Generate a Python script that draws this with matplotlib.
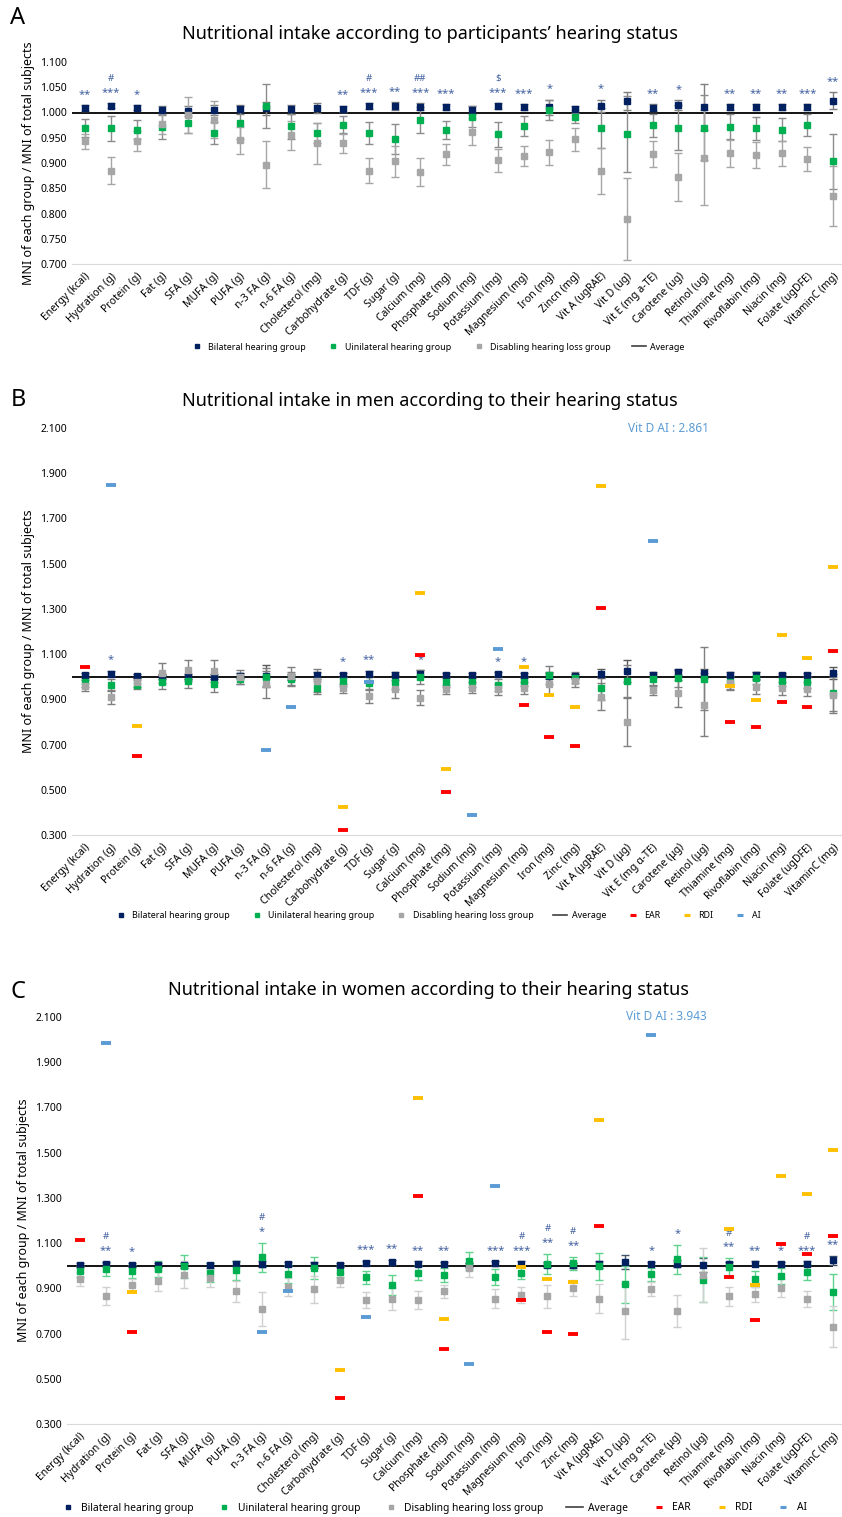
import numpy as np
import matplotlib
matplotlib.use("Agg")
import matplotlib.pyplot as plt
from matplotlib.lines import Line2D

plt.rcParams['font.family'] = ['Noto Sans', 'DejaVu Sans']

nan = np.nan

labels_a = ['Energy (kcal)', 'Hydration (g)', 'Protein (g)', 'Fat (g)', 'SFA (g)', 'MUFA (g)', 'PUFA (g)',
            'n-3 FA (g)', 'n-6 FA (g)', 'Cholesterol (mg)', 'Carbohydrate (g)', 'TDF (g)', 'Sugar (g)',
            'Calcium (mg)', 'Phosphate (mg)', 'Sodium (mg)', 'Potassium (mg)', 'Magnesium (mg)', 'Iron (mg)',
            'Zincn (mg)', 'Vit A (ugRAE)', 'Vit D (ug)', 'Vit E (mg a-TE)', 'Carotene (ug)', 'Retinol (ug)',
            'Thiamine (mg)', 'Rivoflabin (mg)', 'Niacin (mg)', 'Folate (ugDFE)', 'VitaminC (mg)']
labels_bc = labels_a[:19] + ['Zinc (mg)', 'Vit A (μgRAE)', 'Vit D (μg)', 'Vit E (mg α-TE)', 'Carotene (μg)',
                             'Retinol (μg)'] + labels_a[25:]

# ---- panel A: all participants
a_bil = [1.008, 1.013, 1.009, 1.004, 1.003, 1.005, 1.006, 1.008, 1.006, 1.009, 1.007, 1.012, 1.012, 1.011, 1.010,
         1.005, 1.012, 1.010, 1.010, 1.006, 1.013, 1.022, 1.009, 1.014, 1.011, 1.010, 1.010, 1.010, 1.010, 1.023]
a_bil_err = [0.006, 0.005, 0.005, 0.009, 0.010, 0.010, 0.009, 0.012, 0.009, 0.010, 0.006, 0.006, 0.008, 0.007, 0.006,
             0.008, 0.006, 0.006, 0.015, 0.007, 0.012, 0.018, 0.007, 0.010, 0.045, 0.006, 0.006, 0.006, 0.006, 0.017]
a_uni = [0.970, 0.969, 0.966, 0.972, 0.980, 0.960, 0.980, 1.013, 0.973, 0.960, 0.976, 0.960, 0.947, 0.985, 0.965,
         0.992, 0.957, 0.973, 1.005, 0.992, 0.969, 0.957, 0.975, 0.970, 0.970, 0.972, 0.969, 0.966, 0.975, 0.903]
a_uni_err = [0.018, 0.025, 0.019, 0.025, 0.021, 0.022, 0.033, 0.044, 0.025, 0.020, 0.017, 0.022, 0.030, 0.025, 0.018,
             0.020, 0.025, 0.020, 0.020, 0.012, 0.040, 0.075, 0.023, 0.044, 0.065, 0.025, 0.023, 0.023, 0.022, 0.055]
a_dis = [0.943, 0.885, 0.943, 0.977, 0.995, 0.986, 0.945, 0.897, 0.955, 0.939, 0.939, 0.885, 0.903, 0.882, 0.917,
         0.962, 0.905, 0.914, 0.921, 0.947, 0.884, 0.789, 0.918, 0.872, 0.910, 0.919, 0.916, 0.919, 0.908, 0.835]
a_dis_err = [0.015, 0.026, 0.020, 0.020, 0.035, 0.037, 0.027, 0.047, 0.029, 0.040, 0.019, 0.024, 0.030, 0.027, 0.020,
             0.027, 0.023, 0.020, 0.024, 0.023, 0.046, 0.081, 0.025, 0.048, 0.094, 0.027, 0.025, 0.025, 0.024, 0.060]
a_stars = ['**', '***', '*', '', '', '', '', '', '', '', '**', '***', '**', '***', '***', '', '***', '***', '*', '',
           '*', '', '**', '*', '', '**', '**', '**', '***', '**']
a_marks = ['', '#', '', '', '', '', '', '', '', '', '', '#', '', '##', '', '', '$', '', '', '',
           '', '', '', '', '', '', '', '', '', '']

# ---- panel B: men
b_bil = [1.007, 1.014, 1.003, 1.000, 1.000, 1.000, 1.005, 1.004, 0.998, 1.007, 1.007, 1.014, 1.009, 1.013, 1.007,
         1.007, 1.010, 1.006, 1.004, 1.003, 1.014, 1.026, 1.009, 1.019, 1.016, 1.009, 1.006, 1.007, 1.007, 1.017]
b_bil_err = [0.010, 0.012, 0.008, 0.010, 0.010, 0.010, 0.012, 0.050, 0.012, 0.015, 0.010, 0.012, 0.012, 0.015, 0.008,
             0.008, 0.010, 0.010, 0.015, 0.010, 0.020, 0.050, 0.010, 0.012, 0.020, 0.010, 0.015, 0.010, 0.010, 0.025]
b_uni = [0.976, 0.964, 0.964, 0.976, 0.982, 0.967, 0.991, 0.998, 0.990, 0.952, 0.979, 0.972, 0.976, 0.998, 0.976,
         0.976, 0.963, 0.977, 1.006, 0.996, 0.948, 0.980, 0.989, 0.995, 0.991, 0.975, 0.994, 0.983, 0.977, 0.930]
b_uni_err = [0.020, 0.025, 0.020, 0.030, 0.030, 0.035, 0.025, 0.040, 0.030, 0.030, 0.020, 0.025, 0.030, 0.030, 0.020,
             0.020, 0.025, 0.020, 0.040, 0.025, 0.050, 0.070, 0.025, 0.040, 0.140, 0.030, 0.025, 0.025, 0.025, 0.080]
b_dis = [0.960, 0.910, 0.976, 1.016, 1.028, 1.025, 1.000, 0.967, 1.004, 0.983, 0.948, 0.913, 0.944, 0.908, 0.945,
         0.952, 0.945, 0.950, 0.967, 0.983, 0.911, 0.800, 0.941, 0.926, 0.877, 0.972, 0.955, 0.948, 0.945, 0.920]
b_dis_err = [0.025, 0.030, 0.020, 0.045, 0.045, 0.050, 0.030, 0.060, 0.040, 0.050, 0.020, 0.030, 0.040, 0.035, 0.020,
             0.025, 0.025, 0.025, 0.050, 0.030, 0.060, 0.105, 0.020, 0.060, 0.140, 0.030, 0.030, 0.030, 0.030, 0.080]
b_ear = [1.045, nan, 0.650, nan, nan, nan, nan, nan, nan, nan, 0.323, nan, nan, 1.096, 0.492,
         nan, nan, 0.874, 0.734, 0.693, 1.303, nan, nan, nan, nan, 0.798, 0.777, 0.888, 0.865, 1.113]
b_rdi = [nan, nan, 0.780, nan, nan, nan, nan, nan, nan, nan, 0.423, nan, nan, 1.370, 0.593,
         nan, nan, 1.045, 0.919, 0.868, 1.845, nan, nan, nan, nan, 0.957, 0.898, 1.185, 1.082, 1.486]
b_ai = [nan, 1.846, nan, nan, nan, nan, nan, 0.676, 0.865, nan, nan, 0.976, nan, nan, nan,
        0.389, 1.124, nan, nan, nan, nan, nan, 1.600, nan, nan, nan, nan, nan, nan, nan]
b_vitd_ai = 2.861
b_stars = ['', '*', '', '', '', '', '', '', '', '', '*', '**', '', '*', '', '', '*', '*', '', '',
           '', '', '', '', '', '', '', '', '', '']
b_marks = [''] * 30

# ---- panel C: women
c_bil = [1.003, 1.007, 1.004, 1.004, 1.001, 1.001, 1.009, 1.007, 1.007, 1.004, 1.004, 1.012, 1.015, 1.009, 1.007,
         1.003, 1.010, 1.009, 1.005, 1.001, 1.007, 1.016, 1.007, 1.009, 1.004, 1.007, 1.009, 1.007, 1.009, 1.024]
c_bil_err = [0.008, 0.010, 0.008, 0.010, 0.010, 0.010, 0.010, 0.012, 0.010, 0.012, 0.008, 0.010, 0.010, 0.010, 0.010,
             0.010, 0.010, 0.010, 0.012, 0.010, 0.015, 0.030, 0.010, 0.015, 0.030, 0.010, 0.010, 0.010, 0.010, 0.020]
c_uni = [0.975, 0.984, 0.975, 0.985, 0.997, 0.970, 0.979, 1.037, 0.965, 0.990, 0.973, 0.948, 0.914, 0.970, 0.959,
         1.021, 0.950, 0.970, 1.007, 1.010, 0.998, 0.917, 0.962, 1.028, 0.938, 0.994, 0.941, 0.956, 0.972, 0.882]
c_uni_err = [0.025, 0.030, 0.030, 0.035, 0.050, 0.040, 0.040, 0.065, 0.040, 0.050, 0.025, 0.030, 0.045, 0.035, 0.030,
             0.040, 0.035, 0.030, 0.045, 0.030, 0.060, 0.080, 0.030, 0.065, 0.100, 0.040, 0.035, 0.035, 0.035, 0.080]
c_dis = [0.941, 0.867, 0.913, 0.934, 0.960, 0.947, 0.886, 0.808, 0.904, 0.895, 0.938, 0.850, 0.852, 0.850, 0.886,
         0.988, 0.855, 0.870, 0.864, 0.901, 0.855, 0.798, 0.897, 0.801, 0.959, 0.864, 0.873, 0.900, 0.852, 0.731]
c_dis_err = [0.030, 0.040, 0.030, 0.045, 0.060, 0.040, 0.045, 0.075, 0.040, 0.060, 0.030, 0.035, 0.050, 0.040, 0.030,
             0.040, 0.040, 0.035, 0.050, 0.035, 0.065, 0.120, 0.030, 0.070, 0.120, 0.040, 0.035, 0.040, 0.035, 0.090]
c_ear = [1.112, nan, 0.706, nan, nan, nan, nan, nan, nan, nan, 0.413, nan, nan, 1.307, 0.633,
         nan, nan, 0.847, 0.705, 0.696, 1.175, nan, nan, nan, nan, 0.950, 0.762, 1.096, 1.053, 1.133]
c_rdi = [nan, nan, 0.885, nan, nan, nan, nan, nan, nan, nan, 0.538, nan, nan, 1.742, 0.764,
         nan, nan, 0.993, 0.941, 0.929, 1.643, nan, nan, nan, nan, 1.161, 0.913, 1.398, 1.317, 1.510]
c_ai = [nan, 1.986, nan, nan, nan, nan, nan, 0.706, 0.889, nan, nan, 0.773, nan, nan, nan,
        0.565, 1.354, nan, nan, nan, nan, nan, 2.019, nan, nan, nan, nan, nan, nan, nan]
c_vitd_ai = 3.943
c_stars = ['', '**', '*', '', '', '', '', '*', '', '', '', '***', '**', '**', '**', '', '***', '***', '**', '**',
           '', '', '*', '*', '', '**', '**', '*', '***', '**']
c_marks = ['', '#', '', '', '', '', '', '#', '', '', '', '', '', '', '', '', '', '#', '#', '#',
           '', '', '', '', '', '#', '', '', '#', '']

NAVY = '#002060'
GREEN = '#00B050'
GRAY = '#A6A6A6'
EAR_C = '#FF0000'
RDI_C = '#FFC000'
AI_C = '#5B9BD5'
STAR_C = '#41609F'
Y_LABEL = 'MNI of each group / MNI of total subjects'


def draw_panel(ax, labels, series, err_cols, ylim, ystep, stars, marks, refs=None, vitd=None):
    x = np.arange(len(labels))
    ax.hlines(1.0, -0.5, len(labels) - 1, color='black', lw=1.3, zorder=2)
    tops = []
    for (vals, errs, col), ecol in zip(series, err_cols):
        ax.errorbar(x, vals, yerr=errs, fmt='s', color=col, ms=4.6, ecolor=ecol, elinewidth=1,
                    capsize=2.8, capthick=1, zorder=3)
        tops.append(np.array(vals) + np.array(errs))
    top = np.max(tops, axis=0)
    if refs is not None:
        for vals, col in refs:
            ax.plot(x, vals, ls='none', marker='_', ms=7.5, mew=2.8, color=col, zorder=4)
    for i in range(len(labels)):
        if stars[i]:
            ax.annotate(stars[i], (i, top[i]), xytext=(0, 8), textcoords='offset points',
                        ha='center', va='center', fontsize=8, color=STAR_C)
        if marks[i]:
            ax.annotate(marks[i], (i, top[i]), xytext=(0, 18), textcoords='offset points',
                        ha='center', va='center', fontsize=7, color=STAR_C)
    if vitd is not None:
        ax.text(22.6, ylim[1], 'Vit D AI : %.3f' % vitd, color=AI_C, fontsize=8.5, ha='center', va='center')

    ax.set_xlim(-0.5, len(labels) - 0.5)
    ax.set_ylim(*ylim)
    ax.set_yticks(np.arange(ylim[0], ylim[1] + ystep / 2, ystep))
    ax.yaxis.set_major_formatter(matplotlib.ticker.FormatStrFormatter('%.3f'))
    ax.set_xticks(x)
    ax.set_xticklabels(labels, rotation=45, ha='right', rotation_mode='anchor', fontsize=7.5)
    ax.tick_params(axis='both', length=0, labelsize=7.5)
    ax.tick_params(axis='x', pad=5)
    for s in ['top', 'right', 'left']:
        ax.spines[s].set_visible(False)
    ax.spines['bottom'].set_color('#D9D9D9')
    ax.set_ylabel(Y_LABEL, fontsize=9)


def legend_handles(with_refs):
    h = [Line2D([], [], ls='none', marker='s', ms=3.5, color=NAVY, label='Bilateral hearing group'),
         Line2D([], [], ls='none', marker='s', ms=3.5, color=GREEN, label='Uinilateral hearing group'),
         Line2D([], [], ls='none', marker='s', ms=3.5, color=GRAY, label='Disabling hearing loss group'),
         Line2D([], [], color='#404040', lw=1.2, label='Average')]
    if with_refs:
        h += [Line2D([], [], ls='none', marker='_', ms=5, mew=2.2, color=EAR_C, label='EAR'),
              Line2D([], [], ls='none', marker='_', ms=5, mew=2.2, color=RDI_C, label='RDI'),
              Line2D([], [], ls='none', marker='_', ms=5, mew=2.2, color=AI_C, label='AI')]
    return h


W, H = 842, 1517
fig = plt.figure(figsize=(W / 100, H / 100), dpi=100)

ax_a = fig.add_axes([72 / W, 1 - 264 / H, (846 - 72) / W, (264 - 62) / H])
draw_panel(ax_a, labels_a,
           [(a_bil, a_bil_err, NAVY), (a_uni, a_uni_err, GREEN), (a_dis, a_dis_err, GRAY)],
           ['#7F7F7F', '#8C8C8C', '#A6A6A6'], (0.7, 1.1), 0.05, a_stars, a_marks)

ax_b = fig.add_axes([72 / W, 1 - 835 / H, (846 - 72) / W, (835 - 428) / H])
draw_panel(ax_b, labels_bc,
           [(b_bil, b_bil_err, NAVY), (b_uni, b_uni_err, GREEN), (b_dis, b_dis_err, GRAY)],
           ['#595959', '#7F7F7F', '#7F7F7F'], (0.3, 2.1), 0.2, b_stars, b_marks,
           refs=[(b_ear, EAR_C), (b_rdi, RDI_C), (b_ai, AI_C)], vitd=b_vitd_ai)

ax_c = fig.add_axes([67 / W, 1 - 1424 / H, (846 - 67) / W, (1424 - 1017) / H])
draw_panel(ax_c, labels_bc,
           [(c_bil, c_bil_err, NAVY), (c_uni, c_uni_err, GREEN), (c_dis, c_dis_err, GRAY)],
           ['#44546A', '#5FD38D', '#D0D0D0'], (0.3, 2.1), 0.2, c_stars, c_marks,
           refs=[(c_ear, EAR_C), (c_rdi, RDI_C), (c_ai, AI_C)], vitd=c_vitd_ai)

fig.text(430 / W, 1 - 34 / H, 'Nutritional intake according to participants\u2019 hearing status',
         ha='center', va='center', fontsize=13)
fig.text(430 / W, 1 - 401 / H, 'Nutritional intake in men according to their hearing status',
         ha='center', va='center', fontsize=13)
fig.text(428 / W, 1 - 990 / H, 'Nutritional intake in women according to their hearing status',
         ha='center', va='center', fontsize=13)
for letter, yy in [('A', 18), ('B', 400), ('C', 992)]:
    fig.text(18 / W, 1 - yy / H, letter, ha='center', va='center', fontsize=17, fontweight='bold')

fig.legend(handles=legend_handles(False), loc='center', bbox_to_anchor=(437 / W, 1 - 347 / H),
           ncol=4, frameon=False, fontsize=6.4, handlelength=1.6, columnspacing=2.3, handletextpad=0.5)
fig.legend(handles=legend_handles(True), loc='center', bbox_to_anchor=(437 / W, 1 - 916 / H),
           ncol=7, frameon=False, fontsize=6.4, handlelength=1.6, columnspacing=2.2, handletextpad=0.5)
fig.legend(handles=legend_handles(True), loc='center', bbox_to_anchor=(433 / W, 1 - 1508 / H),
           ncol=7, frameon=False, fontsize=7.4, handlelength=1.6, columnspacing=2.2, handletextpad=0.5)

fig.savefig('out.png', dpi=100)
